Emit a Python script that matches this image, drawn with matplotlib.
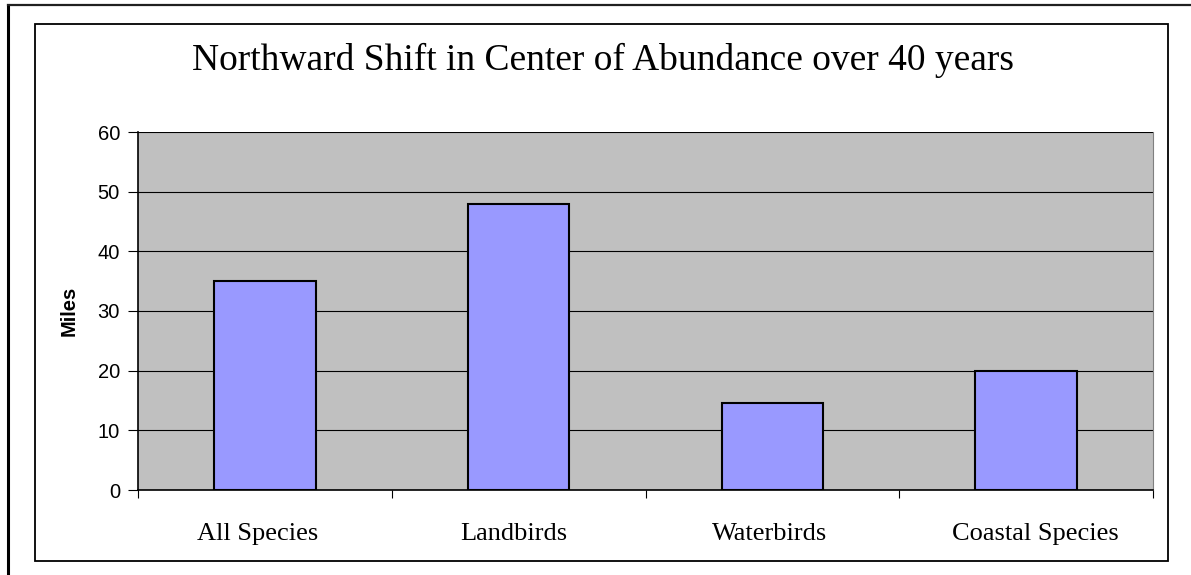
import matplotlib
matplotlib.use("Agg")
import matplotlib.pyplot as plt
import matplotlib.transforms as mtransforms
from matplotlib.patches import Rectangle
from matplotlib.lines import Line2D

# data
categories = ["All Species", "Landbirds", "Waterbirds", "Coastal Species"]
miles = [35, 48, 14.6, 20]
y_ticks = [0, 10, 20, 30, 40, 50, 60]


def main():
    W, H = 1191, 575
    fig = plt.figure(figsize=(W / 100, H / 100), dpi=100)

    # outer page edge lines (top and left only)
    fig.lines.append(Line2D([7.5 / W, 7.5 / W], [0, 1 - 5 / H],
                            transform=fig.transFigure, color="black",
                            linewidth=2.2))
    fig.lines.append(Line2D([7.5 / W, 1], [1 - 5 / H, 1 - 5 / H],
                            transform=fig.transFigure, color="#202020",
                            linewidth=1.6))

    # chart area border
    fig.patches.append(Rectangle((35 / W, 1 - 561 / H), 1133 / W, 537 / H,
                                 transform=fig.transFigure, fill=False,
                                 edgecolor="black", linewidth=1.3))

    ax = fig.add_axes([138 / W, 1 - 490 / H, 1015 / W, 358 / H])
    ax.set_facecolor("#C0C0C0")

    x = list(range(len(categories)))
    ax.bar(x, miles, width=0.4, color="#9999FF", edgecolor="black",
           linewidth=1.5, zorder=3)

    ax.set_xlim(-0.5, len(categories) - 0.5)
    ax.set_ylim(0, 60)
    ax.set_yticks(y_ticks)
    ax.set_yticklabels([str(t) for t in y_ticks], fontsize=14.5,
                       family="Liberation Sans")
    ax.grid(axis="y", color="black", linewidth=0.8, zorder=1)

    # category labels centred, ticks on boundaries
    ax.set_xticks([i - 0.5 for i in range(len(categories) + 1)])
    ax.set_xticklabels([])
    ax.set_xticks(x, minor=True)
    labels = ax.set_xticklabels(categories, minor=True, fontsize=19,
                                family="Liberation Serif")
    ax.tick_params(axis="x", which="minor", length=0, pad=24)
    ax.tick_params(axis="x", which="major", length=6, direction="out")
    ax.tick_params(axis="y", length=7, pad=6)

    # small horizontal nudges seen in the original label placement
    nudges = [-7, -5, -3, 9]
    for lab, dx in zip(labels, nudges):
        off = mtransforms.ScaledTranslation(dx / 100, 0, fig.dpi_scale_trans)
        lab.set_transform(lab.get_transform() + off)

    ax.spines["top"].set_visible(False)
    ax.spines["right"].set_color("#808080")
    ax.spines["left"].set_linewidth(1.2)
    ax.spines["bottom"].set_linewidth(1.2)

    ax.set_ylabel("Miles", fontsize=14.5, fontweight="bold",
                  family="Liberation Sans", labelpad=14)

    fig.text(603 / W, 1 - 60 / H,
             "Northward Shift in Center of Abundance over 40 years",
             ha="center", va="center", fontsize=27, family="Liberation Serif")

    fig.savefig("out.png", dpi=100)


if __name__ == "__main__":
    main()
